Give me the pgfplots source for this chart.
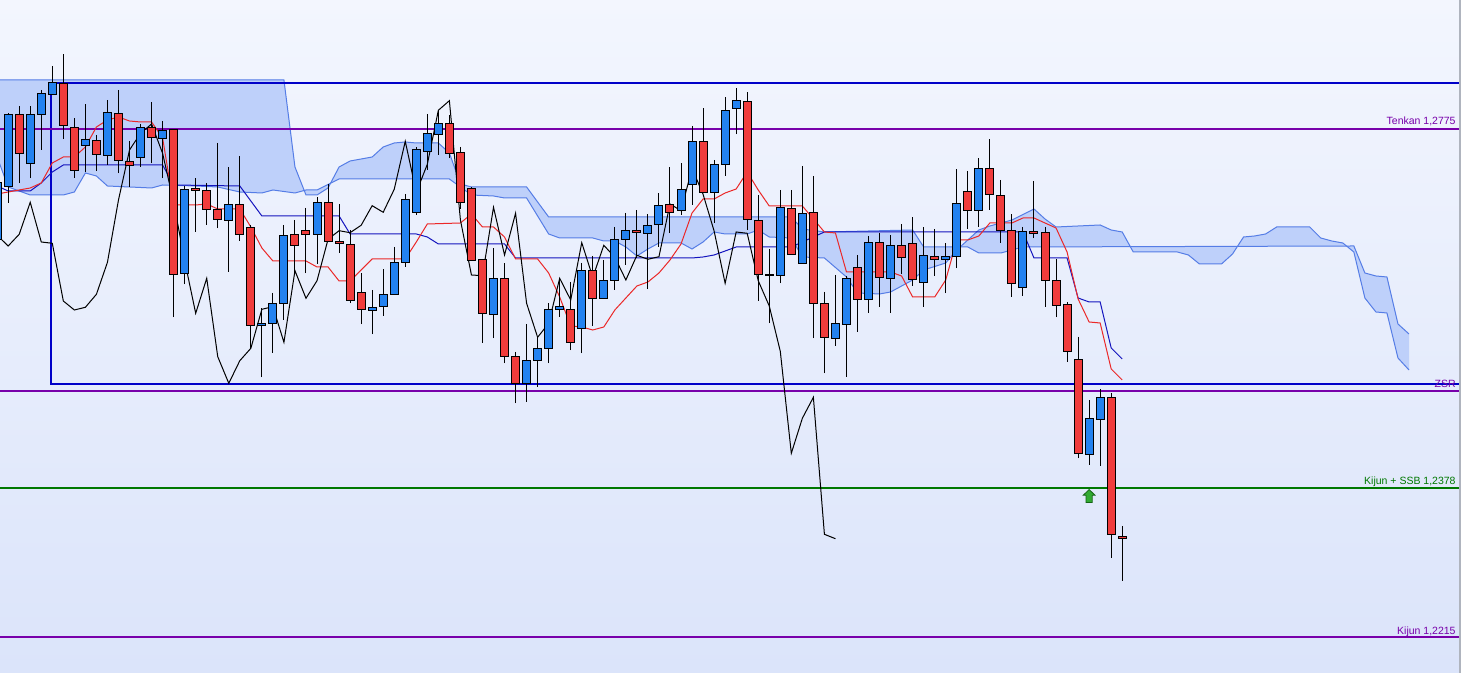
\documentclass[border=0pt]{standalone}
\usepackage{fontspec}
\setmainfont{Liberation Sans}
\usepackage{pgfplots}
\pgfplotsset{compat=1.18}
\usepackage{pgfplotstable}
\usepgfplotslibrary{fillbetween,statistics}

\definecolor{bgtop}{RGB}{243,246,254}
\definecolor{bgbot}{RGB}{219,228,250}
\definecolor{cloudfill}{RGB}{190,208,250}
\definecolor{cloudline}{RGB}{85,125,230}
\definecolor{candlered}{RGB}{240,60,60}
\definecolor{candleblue}{RGB}{35,130,240}
\definecolor{tenkan}{RGB}{235,40,40}
\definecolor{kijun}{RGB}{20,20,190}
\definecolor{zone}{RGB}{0,0,200}
\definecolor{lvlpurple}{RGB}{120,0,170}
\definecolor{lvlgreen}{RGB}{0,120,0}
\definecolor{arrowgreen}{RGB}{50,170,50}
\definecolor{arrowdark}{RGB}{20,100,20}

% candle data, y in chart units (top of picture = 0)
\pgfplotstableread{
i o h l c
0 240 178 246 183
1 186.7 113 202.7 114.3
2 114.3 106 183.3 153.3
3 163.3 106 178.3 114.3
4 114.3 90 150 93.3
5 94.3 66 94.3 82.7
6 83.3 54.3 139.3 126
7 127.7 118.3 177.7 171
8 145.7 104.3 171.7 139.3
9 140.3 135 170.7 154.3
10 155.3 100 165 112.3
11 113.3 90 173.3 161
12 161.7 141 186.7 166
13 157.3 124 166.7 127.3
14 127.3 102 163.3 137.3
15 138.3 121 178.3 130.3
16 129.3 129.3 317.3 274.3
17 273.3 186 284.3 189.3
18 188.3 178.3 231.7 190.3
19 191 183.3 225 209.3
20 209.3 142.7 228.3 219.3
21 220.3 167.3 271.7 204.3
22 204.3 156 240.7 234.3
23 227.3 225 347.7 326
24 325.3 308.3 377.3 323.3
25 323.3 292.7 352.7 303.3
26 303.3 225 320 235.3
27 234.3 220 272.7 246
28 230.3 207.7 273.3 234.3
29 234.3 197.3 264 202.3
30 202.3 184 242 242
31 242 204 252.7 243.3
32 244.3 230 303.3 301
33 292.3 273.3 324.3 310
34 311 290 334.3 307.3
35 306.7 269.3 315.7 294.3
36 294.3 246.7 294.3 262.3
37 262.7 194 266.7 200
38 212.3 147.3 215 150
39 151.7 114 170 133.3
40 134.3 110 155 124
41 124 115 158.3 153.3
42 152.3 146.7 209.3 202.3
43 189 186.7 260.7 260.7
44 259.3 259.3 342.7 313.3
45 314.3 248.3 338.3 278.3
46 278.3 263.3 363.3 356.7
47 356.7 351.7 403.3 383.3
48 384 324 401.7 360.7
49 360.7 336.7 386.7 348.3
50 348.3 303.3 363.3 309.3
51 310 278.3 316.7 306.7
52 309.3 281.7 350.5 342.3
53 328.3 262.7 353.3 270.7
54 270.7 256 325.7 298.3
55 298.3 260 298.3 280.7
56 280.7 226.7 290 239.3
57 239.3 212.7 265 230.7
58 230.7 210 258.3 232.7
59 233.3 214.3 289.3 225.3
60 224.3 193.3 246.7 205.7
61 204.3 167.3 233.3 212.3
62 211 163.3 215 189.3
63 184.3 126 205 141.3
64 141.3 108.3 192.3 192.3
65 192.3 160 223.3 164.3
66 164.3 97.3 175.7 110.3
67 109 88.3 134.3 100.7
68 101.3 92.3 230 220
69 220.7 195 300.7 275
70 274.3 249.3 323.3 275.7
71 275.3 190 283.3 207.3
72 208.3 190 255 255
73 263.3 166 263.3 213.3
74 212.3 176 338.3 303.3
75 303.3 291.7 373.3 337.3
76 338.3 275 345.7 323.3
77 324.3 276 376.7 278.3
78 267.3 255 331.7 300
79 300 236 312.7 242.7
80 242.7 232.7 306.7 277.3
81 278.3 235 312.7 245.3
82 245.3 224 274 257.3
83 243.3 217.3 285.7 280
84 282.3 227.3 306.7 255.3
85 256.7 229.3 276 259.3
86 260 243.3 293.3 256.7
87 256.7 169.3 268.3 204
88 192 171 229 210.7
89 210.7 158.3 226.7 168.3
90 168.3 139.3 210 194.3
91 195.3 180 242.7 231
92 231 214.3 296.7 283.3
93 287.3 226.7 295.7 232
94 231.3 181 238.3 233.3
95 232.3 226.7 306.7 280.7
96 281 259.3 317.3 306
97 305 302.3 361.7 351.3
98 359.3 336.7 458.3 453.3
99 454.3 400 465 418.3
100 419.3 389.3 465.7 397.3
101 397.3 392.7 557.7 534.3
102 536.3 526 580.7 538.7
}\ohlc

\pgfplotstableread{
i y
0 194
1 192
2 190
3 188
4 183
5 163
6 157
7 157
8 147
9 127
10 120
11 117
12 121
13 122
14 122
15 138
16 205
17 205
18 205
19 204
20 209
22 209
23 227
24 248
25 261
28 261
29 267
30 267
31 281
32 281
33 270
34 259
37 259
38 242
39 224
42 223
43 214
44 227
45 227
46 237
47 259
49 259
50 273
51 297
52 326
53 327
54 330
55 327
56 310
57 298
58 286
59 282
60 273
61 260
62 244
63 213
64 199
65 199
66 193
67 189
68 172
69 190
70 206
73 206
74 219
75 232
76 233
77 272
81 272
82 276
83 297
85 297
86 280
87 240
88 240
89 236
90 223
92 223
93 218
94 218
95 223
96 228
97 252
98 299
99 322
100 323
101 369
102 380
}\tenkan

\pgfplotstableread{
i y
0 186
1 191
3 191
4 183
5 172
6 165
15 165
16 185
22 186
23 201
24 216
31 216
32 234
38 234
39 237
40 244
46 244
47 258
63 258
64 257
65 255
66 251
67 247
72 247
73 242
74 237
75 232
93 232
94 258
97 258
98 298
99 302
100 302
101 348
102 359
}\kijun

\pgfplotstableread{
i y
0 80
26 80
27 167
28 195
29 195
30 188
31 167
32 161
34 157
35 147
36 143
37 142
38 143
40 143
41 153
42 184
43 187
48 187
50 217
72 217
73 229
75 232
83 230
84 247
88 247
89 253
91 253
93 247
123 246
124 273
125 276
126 277
127 324
128 334
}\spanA

\pgfplotstableread{
i y
0 157
1 187
3 195
6 195
7 192
8 173
9 176
10 186
12 187
14 188
15 185
18 186
20 187
22 192
24 193
25 190
27 193
28 190
29 190
31 179
41 179
42 187
43 195
45 196
46 198
48 198
50 234
51 238
54 238
55 241
56 241
57 247
58 256
59 249
60 243
62 243
63 249
64 242
65 232
66 234
68 234
69 230
70 237
72 238
73 257
75 258
77 277
78 293
80 294
81 292
83 280
84 270
86 263
87 250
89 230
90 226
92 220
94 209
95 219
96 227
100 225
101 230
102 232
103 252
107 252
108 255
109 264
111 264
112 254
113 237
114 236
115 234
116 227
119 227
120 238
121 241
122 243
123 252
124 298
125 312
126 313
127 358
128 370
}\spanB

\pgfplotstablegetrowsof{\ohlc}
\pgfmathtruncatemacro\lastrow{\pgfplotsretval-1}

\pgfplotsset{
  candle/.style={draw=black, line width=0.5pt, solid, mark=none},
  level/.style={line width=1pt, mark=none},
  thinline/.style={line width=0.5pt, mark=none},
}

\pgfdeclareplotmark{uparrow}{%
  \pgfpathmoveto{\pgfqpoint{0pt}{3.25pt}}%
  \pgfpathlineto{\pgfqpoint{2.9pt}{0.4pt}}%
  \pgfpathlineto{\pgfqpoint{1.55pt}{0.4pt}}%
  \pgfpathlineto{\pgfqpoint{1.55pt}{-3.25pt}}%
  \pgfpathlineto{\pgfqpoint{-1.55pt}{-3.25pt}}%
  \pgfpathlineto{\pgfqpoint{-1.55pt}{0.4pt}}%
  \pgfpathlineto{\pgfqpoint{-2.9pt}{0.4pt}}%
  \pgfpathclose
  \pgfusepathqfillstroke
}

\newcommand\lblfont{\fontsize{5.25}{6}\selectfont}

\begin{document}
\begin{tikzpicture}
\begin{axis}[
    name=main,
    width=730.5pt, height=336.5pt, scale only axis,
    xmin=0.2584, xmax=132.715,
    ymin=0, ymax=673, y dir=reverse,
    hide axis,
    set layers=standard,
]
  \begin{pgfonlayer}{axis background}
    \fill[top color=bgtop, bottom color=bgbot] (rel axis cs:0,0) rectangle (rel axis cs:1,1);
  \end{pgfonlayer}

  % cloud
  \addplot[draw=none, name path=sa] table[x=i, y=y] {\spanA};
  \addplot[draw=none, name path=sb] table[x=i, y=y] {\spanB};
  \addplot[fill=cloudfill, draw=none] fill between[of=sa and sb];
  \addplot[thinline, cloudline] table[x=i, y=y] {\spanA};
  \addplot[thinline, cloudline] table[x=i, y=y] {\spanB};

  % levels
  \addplot[level, zone] coordinates {(140,83) (4.88,83) (4.88,384) (140,384)};
  \addplot[level, lvlpurple] coordinates {(-5,129) (140,129)};
  \addplot[level, lvlpurple] coordinates {(-5,391) (140,391)};
  \addplot[level, lvlgreen] coordinates {(-5,488) (140,488)};
  \addplot[level, lvlpurple] coordinates {(-5,637) (140,637)};

  % ichimoku lines
  \addplot[thinline, kijun] table[x=i, y=y] {\kijun};
  \addplot[thinline, tenkan] table[x=i, y=y] {\tenkan};
  \addplot[thinline, black] table[x expr=\thisrow{i}-26, y=c] {\ohlc};

  % candles
  \pgfplotsinvokeforeach{0,...,\lastrow}{%
    \pgfplotstablegetelem{#1}{i}\of\ohlc \let\ci\pgfplotsretval
    \pgfplotstablegetelem{#1}{o}\of\ohlc \let\co\pgfplotsretval
    \pgfplotstablegetelem{#1}{h}\of\ohlc \let\ch\pgfplotsretval
    \pgfplotstablegetelem{#1}{l}\of\ohlc \let\cl\pgfplotsretval
    \pgfplotstablegetelem{#1}{c}\of\ohlc \let\cc\pgfplotsretval
    \pgfmathsetmacro\ctop{min(\co,\cc)}%
    \pgfmathsetmacro\cbot{max(\co,\cc)}%
    \ifdim\cc pt<\co pt \def\ccol{candleblue}\else\def\ccol{candlered}\fi
    \edef\temp{\noexpand\addplot[candle, fill=\ccol,
      boxplot prepared={draw direction=y, draw position=\ci, lower whisker=\ch,
        lower quartile=\ctop, median=\ctop, upper quartile=\cbot,
        upper whisker=\cl, box extend=0.725, whisker extend=0}]
      coordinates {};}%
    \temp
  }

  \addplot[only marks, mark=uparrow, mark options={fill=arrowgreen, draw=arrowdark, line width=0.4pt}] coordinates {(99,496)};

  % labels
  \node[anchor=base east, text=lvlpurple, font=\lblfont, inner sep=0pt] at (axis cs:132.26,125) {Tenkan 1,2775};
  \node[anchor=base east, text=lvlpurple, font=\lblfont, inner sep=0pt] at (axis cs:132.26,388) {ZSR};
  \node[anchor=base east, text=lvlgreen, font=\lblfont, inner sep=0pt] at (axis cs:132.26,485) {Kijun + SSB 1,2378};
  \node[anchor=base east, text=lvlpurple, font=\lblfont, inner sep=0pt] at (axis cs:132.26,634.3) {Kijun 1,2215};

  \draw[line width=0.75pt, color={rgb,255:red,175;green,180;blue,190}] (axis cs:132.6,0) -- (axis cs:132.6,673);
\end{axis}
\pgfresetboundingbox
\useasboundingbox (main.south west) rectangle (main.north east);
\end{tikzpicture}
\end{document}
